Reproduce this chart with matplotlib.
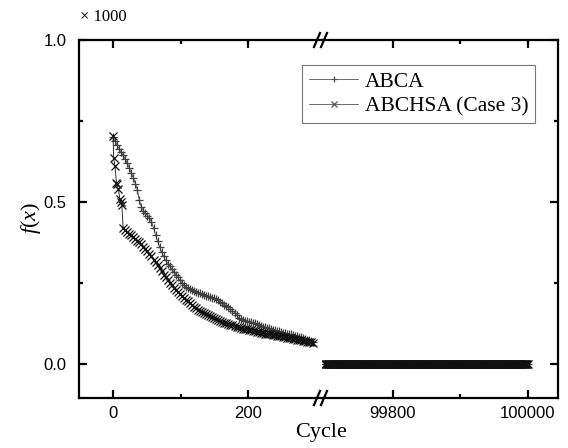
import matplotlib
matplotlib.use("Agg")
import matplotlib.pyplot as plt
from matplotlib.lines import Line2D

plt.rcParams['mathtext.fontset'] = 'custom'
plt.rcParams['mathtext.rm'] = 'Liberation Serif'
plt.rcParams['mathtext.it'] = 'Liberation Serif:italic'

# ---------------- data ----------------
abca_cycles = list(range(0, 298, 3))
abca_values = [0.700, 0.688, 0.676, 0.664, 0.653, 0.645, 0.632, 0.620, 0.605, 0.590,
               0.575, 0.557, 0.538, 0.505, 0.485, 0.472, 0.465, 0.458, 0.450, 0.438,
               0.420, 0.398, 0.379, 0.361, 0.346, 0.332, 0.320, 0.310, 0.301, 0.293,
               0.285, 0.276, 0.267, 0.258, 0.251, 0.245, 0.239, 0.234, 0.230, 0.227,
               0.224, 0.222, 0.220, 0.218, 0.215, 0.213, 0.211, 0.209, 0.207, 0.205,
               0.203, 0.200, 0.196, 0.191, 0.187, 0.183, 0.179, 0.175, 0.171, 0.165,
               0.158, 0.150, 0.143, 0.138, 0.135, 0.133, 0.132, 0.131, 0.129, 0.127,
               0.125, 0.122, 0.119, 0.116, 0.115, 0.113, 0.111, 0.110, 0.108, 0.106,
               0.104, 0.102, 0.101, 0.099, 0.097, 0.096, 0.094, 0.092, 0.091, 0.089,
               0.087, 0.085, 0.084, 0.082, 0.080, 0.077, 0.075, 0.073, 0.070, 0.068]

abchsa_cycles = [0, 1, 3, 5, 6, 8, 10, 12, 13] + list(range(15, 298, 3))
abchsa_values = [0.705, 0.635, 0.610, 0.560, 0.555, 0.540, 0.510, 0.500, 0.490,
                 0.420, 0.414, 0.408, 0.402, 0.397, 0.392, 0.387, 0.381, 0.377, 0.370,
                 0.362, 0.355, 0.348, 0.340, 0.332, 0.322, 0.314, 0.305, 0.295, 0.286,
                 0.276, 0.268, 0.259, 0.251, 0.243, 0.236, 0.229, 0.222, 0.215, 0.209,
                 0.204, 0.199, 0.193, 0.188, 0.182, 0.177, 0.172, 0.168, 0.164, 0.160,
                 0.156, 0.153, 0.150, 0.148, 0.145, 0.142, 0.139, 0.136, 0.133, 0.130,
                 0.128, 0.126, 0.123, 0.121, 0.119, 0.117, 0.115, 0.113, 0.111, 0.109,
                 0.108, 0.107, 0.106, 0.104, 0.103, 0.101, 0.100, 0.098, 0.097, 0.095,
                 0.094, 0.093, 0.092, 0.091, 0.089, 0.088, 0.087, 0.086, 0.085, 0.083,
                 0.082, 0.081, 0.080, 0.079, 0.077, 0.076, 0.075, 0.074, 0.073, 0.071,
                 0.070, 0.069, 0.068, 0.067, 0.066]

tail_cycles = list(range(99700, 100001, 1))
abca_tail = [0.0] * len(tail_cycles)
abchsa_tail = [0.0] * len(tail_cycles)

series_labels = ["ABCA", "ABCHSA (Case 3)"]
left_xticks = [0, 200]
right_xticks = [99800, 100000]
yticks = [0.0, 0.5, 1.0]
ytick_labels = ["0.0", "0.5", "1.0"]

# ---------------- figure ----------------
W, H = 568, 448
fig = plt.figure(figsize=(W / 100, H / 100), dpi=100)

def fx(px):
    return px / W

def fy(py):
    return 1 - py / H

ax_l = fig.add_axes([fx(79), fy(398), fx(322) - fx(79), fy(40) - fy(398)])
ax_r = fig.add_axes([fx(322), fy(398), fx(558) - fx(322), fy(40) - fy(398)], sharey=ax_l)

sans = 'Liberation Sans'
serif = 'Liberation Serif'
lw_spine = 1.6

style_a = dict(color='#404040', lw=0.6, marker='+', ms=6, mew=0.9)
style_b = dict(color='#101010', lw=0.6, marker='x', ms=5.5, mew=0.9)

ax_l.plot(abca_cycles, abca_values, label=series_labels[0], **style_a)
ax_l.plot(abchsa_cycles, abchsa_values, label=series_labels[1], **style_b)
ax_r.plot(tail_cycles, abca_tail, **style_a)
ax_r.plot(tail_cycles, abchsa_tail, **style_b)

ax_l.set_xlim(-50.4, 309.6)
ax_r.set_xlim(99695, 100045)
ax_l.set_ylim(-0.105, 1.0)

for ax in (ax_l, ax_r):
    for s in ax.spines.values():
        s.set_linewidth(lw_spine)
    ax.tick_params(which='major', direction='in', length=5.5, width=1.6,
                   top=True, labelsize=12)
    ax.tick_params(which='minor', direction='in', length=3, width=1.6, top=True)
    ax.tick_params(axis='x', which='major', pad=6)

ax_l.spines['right'].set_visible(False)
ax_r.spines['left'].set_visible(False)

ax_l.set_xticks(left_xticks)
ax_l.set_xticks([100], minor=True)
ax_r.set_xticks(right_xticks)
ax_r.set_xticks([99900], minor=True)

ax_l.set_yticks(yticks)
ax_l.set_yticklabels(ytick_labels)
ax_l.set_yticks([0.25, 0.75], minor=True)
ax_l.tick_params(axis='y', which='both', right=False)
ax_l.tick_params(axis='y', which='major', pad=9)
ax_r.tick_params(axis='y', which='both', left=False, right=True, labelleft=False)

for ax in (ax_l, ax_r):
    for lab in ax.get_xticklabels() + ax.get_yticklabels():
        lab.set_fontfamily(sans)
        lab.set_fontsize(12)

# break marks
for ycen in (40, 398):
    for x0 in (317, 324):
        fig.add_artist(Line2D([fx(x0 - 3), fx(x0 + 3)], [fy(ycen + 7), fy(ycen - 7)],
                              color='black', lw=1.6, transform=fig.transFigure))

fig.text(fx(321), fy(432), "Cycle", family=serif, fontsize=16, ha='center', va='center')
fig.text(fx(31), fy(218), r"$f$($x$)", family=serif, fontsize=16,
         rotation=90, ha='center', va='center')
fig.text(fx(80), fy(17), "× 1000", family=serif, fontsize=12, ha='left', va='center')

leg = fig.legend(loc='upper right', bbox_to_anchor=(fx(535), fy(65)),
                 bbox_transform=fig.transFigure, prop={'family': serif, 'size': 15.5},
                 frameon=True, fancybox=False, borderaxespad=0, borderpad=0.3,
                 handlelength=2.3, handletextpad=0.3, labelspacing=0.22)
leg.get_frame().set_edgecolor('#555555')
leg.get_frame().set_linewidth(0.8)
for h in leg.legend_handles:
    h.set_markersize(4)
    h.set_color('#555555')

fig.savefig("out.png", dpi=100)
